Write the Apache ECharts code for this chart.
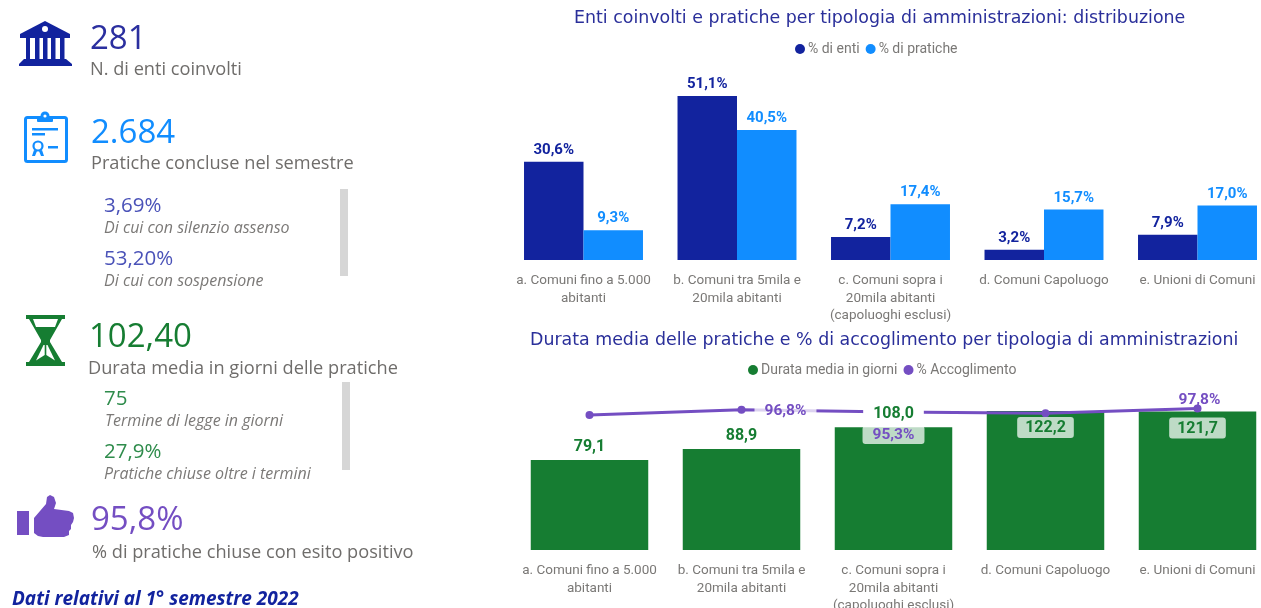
<!DOCTYPE html>
<html><head><meta charset="utf-8">
<style>html,body{margin:0;padding:0;background:#fff}#c{width:1261px;height:608px}</style>
<script src="https://cdn.jsdelivr.net/npm/echarts@6/dist/echarts.min.js"></script>
</head><body><div id="c"></div>
<script>
const categories = ['a. Comuni fino a 5.000\nabitanti','b. Comuni tra 5mila e\n20mila abitanti','c. Comuni sopra i\n20mila abitanti\n(capoluoghi esclusi)','d. Comuni Capoluogo','e. Unioni di Comuni'];
const pctEnti = [30.6,51.1,7.2,3.2,7.9];
const pctPratiche = [9.3,40.5,17.4,15.7,17.0];
const durataMedia = [79.1,88.9,108.0,122.2,121.7];
const pctAccoglimento = [93.2,96.8,95.3,94.4,97.8];
const titleTop = 'Enti coinvolti e pratiche per tipologia di amministrazioni: distribuzione';
const titleBottom = 'Durata media delle pratiche e % di accoglimento per tipologia di amministrazioni';
const kpiBig = ['281','2.684','102,40','95,8%'];
const kpiBigLabels = ['N. di enti coinvolti','Pratiche concluse nel semestre','Durata media in giorni delle pratiche','% di pratiche chiuse con esito positivo'];
const kpiSmall = ['3,69%','53,20%','75','27,9%'];
const kpiSmallLabels = ['Di cui con silenzio assenso','Di cui con sospensione','Termine di legge in giorni','Pratiche chiuse oltre i termini'];
const footnote = 'Dati relativi al 1° semestre 2022';

const NAVY='#12239E',BLUE='#118DFF',GREEN='#167D32',PURPLE='#744EC2',GREY='#6f6d6b';
const F='Roboto', K='"Open Sans"', T='"DejaVu Sans"';
const pct=v=>v.toFixed(1).replace('.',',')+'%';
const num=v=>v.toFixed(1).replace('.',',');

function txt(t,x,y,size,fill,extra){return {type:'text',z:5,style:{text:t,x,y,fill,verticalAlign:'middle',align:'left',font:(extra||'')+' '+size+'px '+K}}}
function poly(points,fill,smooth){return {type:'polygon',z:4,shape:{points,smooth:smooth||0},style:{fill}}}
function rect(x,y,width,height,fill,r){return {type:'rect',z:4,shape:{x,y,width,height,r:r||0},style:{fill}}}
const W='#ffffff';
const icons=[
 // bank
 poly([[45,21],[70,34],[70,38],[20,38],[20,34]],NAVY),
 {type:'circle',z:5,shape:{cx:45,cy:29,r:3},style:{fill:W}},
 rect(26,38,4,21,NAVY),rect(35,38,4.5,21,NAVY),rect(43,38,4.5,21,NAVY),rect(51,38,4.5,21,NAVY),rect(60,38,4.5,21,NAVY),
 poly([[24,59],[66,59],[72,64],[72,66],[19,66],[19,64]],NAVY),
 // clipboard
 {type:'rect',z:4,shape:{x:25.5,y:117.5,width:41,height:44,r:2},style:{fill:W,stroke:BLUE,lineWidth:3}},
 rect(37,116,16,6,BLUE,1),{type:'circle',z:4,shape:{cx:45,cy:116,r:4.5},style:{fill:BLUE}},{type:'circle',z:5,shape:{cx:45,cy:116,r:1.6},style:{fill:W}},
 rect(32,128,26,2.5,BLUE),rect(32,133,13,2.5,BLUE),rect(48,146,10,2.5,BLUE),
 {type:'circle',z:4,shape:{cx:38,cy:146,r:4.5},style:{fill:W,stroke:BLUE,lineWidth:2.2}},
 poly([[34,150],[37,151],[35,156],[32,156]],BLUE),poly([[39,151],[42,150],[44,156],[41,156]],BLUE),
 // hourglass
 poly([[26,315],[65,315],[65,319],[62,319],[50,340],[50,342],[62,362],[65,362],[65,366],[26,366],[26,362],[29,362],[41,342],[41,340],[29,319],[26,319]],GREEN),
 poly([[33,319],[58,319],[55,327],[36,327]],W),
 poly([[43.5,345],[44.7,345],[44.7,355],[36,360.5]],W),
 poly([[47.5,345],[46.3,345],[46.3,355],[55,360.5]],W),
 // thumb
 rect(17,511,12,24,PURPLE),
 poly([[34,518],[46,504],[47,497],[50,495],[54,497],[56,503],[54,509],[69,511],[73,513],[74,518],[73,522],[71,525],[71,529],[69,531],[69,535],[64,537],[43,537],[38,536],[34,533]],PURPLE)
];

const BIG=33, MID=18.2, SM=20.5, IT=16;
const texts=[
 txt(kpiBig[0],90,40,BIG,'#2b2f9f'),
 txt(kpiBigLabels[0],90,70,MID,GREY),
 txt(kpiBig[1],91,134,BIG,BLUE),
 txt(kpiBigLabels[1],91,164,MID,GREY),
 txt(kpiSmall[0],104,206,SM,'#4a52b8'),
 txt(kpiSmallLabels[0],104,228,IT,'#7b7977','italic'),
 txt(kpiSmall[1],104,259,SM,'#4a52b8'),
 txt(kpiSmallLabels[1],104,281,IT,'#7b7977','italic'),
 txt(kpiBig[2],89,338,BIG,GREEN),
 txt(kpiBigLabels[2],88,369,MID,GREY),
 txt(kpiSmall[2],104,399,SM,'#2f8c4c'),
 txt(kpiSmallLabels[2],105,421,IT,'#7b7977','italic'),
 txt(kpiSmall[3],104,452,SM,'#2f8c4c'),
 txt(kpiSmallLabels[3],104,474,IT,'#7b7977','italic'),
 txt(kpiBig[3],91,521,BIG,PURPLE),
 txt(kpiBigLabels[3],92,553,MID,GREY),
 txt(footnote,12,600,19,NAVY,'italic bold'),
 rect(340,189,8,87,'#d6d6d6'),
 rect(342,382,8,88,'#d6d6d6')
];

const axisLabel={interval:0,color:'#7a7876',fontFamily:F,fontSize:13.5,lineHeight:17.5,margin:12,hideOverlap:false};
const pillGreen={position:'insideTop',distance:6,color:GREEN,fontFamily:F,fontWeight:'bold',fontSize:16,backgroundColor:'rgba(255,255,255,0.72)',padding:[3,8,2,8],borderRadius:3};
function barLabel(v,i){
  if(i>=3) return {show:true,formatter:num(v),...pillGreen};
  if(i===2) return {show:true,position:'top',distance:5,formatter:num(v),color:GREEN,fontFamily:F,fontWeight:'bold',fontSize:16,backgroundColor:'#fff',padding:[0,10]};
  return {show:true,position:'top',distance:5,formatter:num(v),color:GREEN,fontFamily:F,fontWeight:'bold',fontSize:16};
}
function lineLabel(v,i){
  const base={show:true,formatter:pct(v),color:PURPLE,fontFamily:F,fontWeight:'bold',fontSize:15.5};
  if(i===1) return {...base,position:'right',distance:9,offset:[0,1],backgroundColor:'rgba(255,255,255,0.75)',padding:[1,10]};
  if(i===2) return {...base,position:'bottom',distance:10,backgroundColor:'rgba(255,255,255,0.72)',padding:[1,10],borderRadius:3};
  if(i===4) return {...base,position:'top',distance:3,offset:[2,7]};
  return {show:false};
}
const topLabel=c=>({show:true,position:'top',distance:4,color:c,fontFamily:F,fontWeight:'bold',fontSize:15,formatter:p=>pct(p.value)});
const legendText={color:'#7a7876',fontFamily:F,fontSize:14,padding:[0,0,0,-2]};

const chart=echarts.init(document.getElementById('c'),null,{renderer:'canvas'});
chart.setOption({
 animation:false,backgroundColor:'#fff',
 title:[
  {text:titleTop,left:574,top:10,padding:0,textStyle:{color:'#2a2f9a',fontFamily:T,fontWeight:'normal',fontSize:17.4}},
  {text:titleBottom,left:530,top:332,padding:0,textStyle:{color:'#2a2f9a',fontFamily:T,fontWeight:'normal',fontSize:17.4}}
 ],
 legend:[
  {data:['% di enti','% di pratiche'],left:790,top:37,icon:'circle',itemWidth:10,itemHeight:10,itemGap:6,textStyle:legendText},
  {data:['Durata media in giorni','% Accoglimento'],left:743,top:358,icon:'circle',itemWidth:10,itemHeight:10,itemGap:6,textStyle:legendText}
 ],
 grid:[
  {left:506.75,width:767.5,top:67.4,height:192.6,outerBoundsMode:'none'},
  {left:513.5,width:760,top:390.75,height:159.25,outerBoundsMode:'none'}
 ],
 xAxis:[
  {type:'category',gridIndex:0,data:categories,axisLine:{show:false},axisTick:{show:false},axisLabel},
  {type:'category',gridIndex:1,data:categories,axisLine:{show:false},axisTick:{show:false},axisLabel}
 ],
 yAxis:[
  {type:'value',gridIndex:0,min:0,max:60,show:false,splitLine:{show:false}},
  {type:'value',gridIndex:1,min:0,max:140,show:false,splitLine:{show:false}},
  {type:'value',gridIndex:1,min:0,max:110,show:false,splitLine:{show:false}}
 ],
 series:[
  {name:'% di enti',type:'bar',xAxisIndex:0,yAxisIndex:0,data:pctEnti,barGap:0,barCategoryGap:'22.5%',itemStyle:{color:NAVY},label:topLabel(NAVY)},
  {name:'% di pratiche',type:'bar',xAxisIndex:0,yAxisIndex:0,data:pctPratiche,itemStyle:{color:BLUE},label:topLabel(BLUE)},
  {name:'Durata media in giorni',type:'bar',xAxisIndex:1,yAxisIndex:1,barGap:'-100%',barCategoryGap:'22.7%',z:2,itemStyle:{color:GREEN},data:durataMedia},
  {name:'% Accoglimento',type:'line',xAxisIndex:1,yAxisIndex:2,z:3,symbol:'circle',symbolSize:8,lineStyle:{color:PURPLE,width:3},itemStyle:{color:PURPLE},
   data:pctAccoglimento.map((v,i)=>({value:v,label:lineLabel(v,i)}))},
  {name:'Etichette durata',type:'bar',xAxisIndex:1,yAxisIndex:1,z:4,itemStyle:{color:'rgba(0,0,0,0)'},tooltip:{show:false},
   data:durataMedia.map((v,i)=>({value:v,label:barLabel(v,i)}))}
 ],
 graphic:{elements:[...icons,...texts]}
});
</script></body></html>
